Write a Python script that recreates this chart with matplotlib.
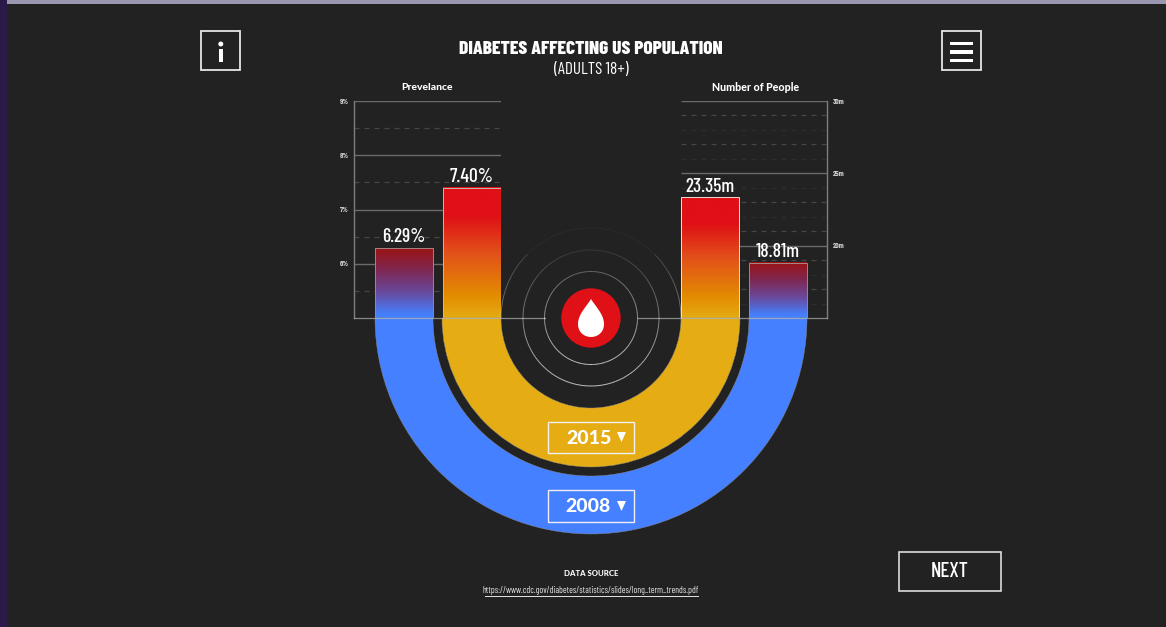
import matplotlib

matplotlib.use("Agg")
import matplotlib.pyplot as plt
import numpy as np
from matplotlib.collections import LineCollection
from matplotlib.colors import LinearSegmentedColormap
from matplotlib.patches import Circle, PathPatch, Polygon, Rectangle, Wedge
from matplotlib.path import Path

prevalence_values = [6.29, 7.40]
people_values = [18.81, 23.35]
prevalence_ticks = [6, 7, 8, 9]
prevalence_labels = ["6%", "7%", "8%", "9%"]
prevalence_minor = [5.5, 6.5, 7.5, 8.5]
people_ticks = [20, 25, 30]
people_labels = ["20m", "25m", "30m"]
people_minor_strong = [17, 19, 21, 23, 27, 29]
people_minor_faint = [16, 18, 22, 24, 26, 28]
years = ["2008", "2015"]

W, H = 1166, 627
BG = "#222222"
BLUE = "#4480FF"
YELLOW = "#E5AC14"
RED = "#DF1016"
GRID = "#6a6a6a"
NARROW = ["Barlow Condensed", "Roboto Condensed", "Liberation Sans Narrow", "DejaVu Sans"]
HEAVY = ["Lato", "DejaVu Sans"]

CX, BASE = 591, 318
TOP = 101

old_cmap = LinearSegmentedColormap.from_list(
    "old", [(0, "#9A1414"), (0.3, "#80264F"), (0.62, "#6A489A"), (0.95, BLUE), (1, BLUE)]
)
new_cmap = LinearSegmentedColormap.from_list(
    "new", [(0, RED), (0.22, RED), (0.5, "#E2501A"), (0.84, "#E38E00"), (1, YELLOW)]
)


def pixel_axes(fig, x0, x1):
    return fig.add_axes([x0 / W, 1 - BASE / H, (x1 - x0) / W, (BASE - TOP) / H])


def draw_bar(ax, left, width, value, low, cmap, edge):
    grad = np.linspace(0, 1, 256).reshape(-1, 1)
    ax.imshow(
        grad,
        cmap=cmap,
        extent=(left, left + width, low, value),
        origin="upper",
        aspect="auto",
        zorder=3,
    )
    ax.add_patch(
        Rectangle((left, low), width, value - low, fill=False, ec=edge, lw=0.7, zorder=4)
    )


def style_axes(ax, side):
    ax.patch.set_alpha(0)
    for s in ax.spines.values():
        s.set_visible(False)
    ax.spines[side].set_visible(True)
    ax.spines[side].set_color("#7e7e7e")
    ax.spines[side].set_linewidth(1)
    ax.tick_params(axis="y", which="both", length=0, labelsize=5.4, labelcolor="#d0d0d0", pad=4)
    ax.tick_params(axis="x", which="both", bottom=False, labelbottom=False)


def value_label(ax, text, x, v):
    ax.annotate(
        text,
        (x, v),
        xytext=(0, 7.6),
        textcoords="offset points",
        ha="center",
        va="center",
        color="white",
        fontsize=14,
        fontweight=500,
        family=NARROW,
        zorder=6,
    )


fig = plt.figure(figsize=(W / 100, H / 100), dpi=100, facecolor=BG)

# left axis, prevalence in %
ax_l = pixel_axes(fig, 354, 501)
ax_l.set_xlim(354, 501)
ax_l.set_ylim(5, 9)
style_axes(ax_l, "left")
ax_l.set_yticks(prevalence_ticks, prevalence_labels, family=NARROW, fontweight="bold")
ax_l.hlines(prevalence_ticks, 354, 501, color=GRID, lw=1, zorder=1)
ax_l.hlines(prevalence_minor, 354, 501, color="#474747", lw=0.9, ls=(0, (4, 4)), zorder=1)
for left, v, cmap, edge in zip([375, 443], prevalence_values, [old_cmap, new_cmap], ["#a88484", "#c8b8a8"]):
    draw_bar(ax_l, left, 58, v, 5, cmap, edge)
    value_label(ax_l, f"{v:.2f}%", left + 29, v)
ax_l.set_xlim(354, 501)
ax_l.set_ylim(5, 9)

# right axis, number of people in millions
ax_r = pixel_axes(fig, 681, 827)
ax_r.set_xlim(681, 827)
ax_r.set_ylim(15, 30)
style_axes(ax_r, "right")
ax_r.yaxis.tick_right()
ax_r.tick_params(axis="y", which="both", length=0, pad=4, right=False)
ax_r.set_yticks(people_ticks, people_labels, family=NARROW, fontweight="bold")
ax_r.hlines(people_ticks, 681, 827, color=GRID, lw=1, zorder=1)
ax_r.hlines(people_minor_strong, 681, 827, color="#474747", lw=0.9, ls=(0, (4, 4)), zorder=1)
ax_r.hlines(people_minor_faint, 681, 827, color="#2d2d2d", lw=0.9, ls=(0, (4, 4)), zorder=1)
for left, v, cmap, edge in zip([749, 681], people_values, [old_cmap, new_cmap], ["#a88484", "#e8e0d8"]):
    draw_bar(ax_r, left, 58, v, 15, cmap, edge)
    value_label(ax_r, f"{v:.2f}m", left + 29, v)
ax_r.set_xlim(681, 827)
ax_r.set_ylim(15, 30)

# overlay in pixel coordinates for the decoration
ov = fig.add_axes([0, 0, 1, 1])
ov.set_xlim(0, W)
ov.set_ylim(H, 0)
ov.axis("off")
ov.patch.set_alpha(0)

ov.add_patch(Rectangle((0, 0), 7, H, fc="#2A1A48", ec="none"))
ov.add_patch(Rectangle((7, 0), W - 7, 4, fc="#9A98B0", ec="none"))

ov.add_patch(Wedge((CX, BASE), 216, 0, 180, width=58, fc=BLUE, ec="#8a8a8a", lw=0.3))
ov.add_patch(Wedge((CX, BASE), 149, 0, 180, width=59, fc=YELLOW, ec="#8a8a8a", lw=0.3))

# baseline stops at the inner ring
ov.plot([354, 545], [BASE, BASE], color="#b4b4b4", lw=0.9, alpha=0.7)
ov.plot([638, 827], [BASE, BASE], color="#b4b4b4", lw=0.9, alpha=0.7)

# rings fade out towards the top
for r, top_alpha in [(46.5, 0.3), (68, 0.1), (90, 0.05)]:
    t = np.linspace(0, 2 * np.pi, 241)
    px = CX + r * np.cos(t)
    py = BASE + r * np.sin(t)
    pts = np.column_stack([px, py]).reshape(-1, 1, 2)
    segs = np.concatenate([pts[:-1], pts[1:]], axis=1)
    mid = np.sin((t[:-1] + t[1:]) / 2)
    alphas = np.clip(top_alpha + (0.75 - top_alpha) * (mid + 1) / 2, 0, 1)
    if r == 90:
        alphas[mid > 0] = 0
        alphas[mid < -0.7] = 0.04
    cols = [(1, 1, 1, a) for a in alphas]
    ov.add_collection(LineCollection(segs, colors=cols, linewidths=0.7))

ov.add_patch(Circle((CX, BASE), 29.7, fc=RED, ec="none"))
drop = Path(
    [(CX, 299), (CX + 4, 306), (CX + 13, 314), (CX + 13, 324), (CX + 13, 332), (CX + 7, 337),
     (CX, 337), (CX - 7, 337), (CX - 13, 332), (CX - 13, 324), (CX - 13, 314), (CX - 4, 306),
     (CX, 299)],
    [Path.MOVETO] + [Path.CURVE4] * 12,
)
ov.add_patch(PathPatch(drop, fc="white", ec="none"))

# year selectors
for year, (y0, y1), tx, tri in zip(years, [(490, 522), (422, 453)], [588, 589.5], [506, 437]):
    ov.add_patch(Rectangle((548, y0), 86, y1 - y0, fill=False, ec="#f0f0f0", lw=1))
    ov.text(tx, (y0 + y1) / 2 + 1, year, color="white", fontsize=14, fontweight=900,
            family=HEAVY, ha="center", va="center")
    ov.add_patch(Polygon([(617, tri - 5), (626, tri - 5), (621.5, tri + 5)], fc="white", ec="none"))

# title and panel headings
ov.text(591, 48.5, "DIABETES AFFECTING US POPULATION", color="white", fontsize=14, fontweight=800,
        family=NARROW, ha="center", va="center")
ov.text(591, 69.5, "(ADULTS 18+)", color="white", fontsize=12.3, family=NARROW, ha="center", va="center")
ov.text(426.5, 87.5, "Prevelance", color="white", fontsize=7.5, fontweight=900, family=HEAVY,
        ha="center", va="center")
ov.text(756, 87.5, "Number of People", color="white", fontsize=7.7, fontweight=900, family=HEAVY,
        ha="center", va="center")

# info and menu buttons
ov.add_patch(Rectangle((201, 31), 39, 39, fill=False, ec="#e6e6e6", lw=1.3))
ov.add_patch(Circle((220.8, 44), 2.5, fc="white", ec="none"))
ov.add_patch(Rectangle((218.5, 49), 4.6, 13, fc="white", ec="none"))
ov.add_patch(Rectangle((942, 31), 39, 39, fill=False, ec="#e6e6e6", lw=1.3))
for y in [41.5, 50, 58.5]:
    ov.add_patch(Rectangle((950, y), 23, 3.6, fc="white", ec="none"))

# next button
ov.add_patch(Rectangle((899, 552), 102, 39, fill=False, ec="#dcdcdc", lw=1.2))
ov.text(950, 571.5, "NEXT", color="white", fontsize=15, fontweight=500, family=NARROW, ha="center", va="center")

# data source
ov.text(591, 573, "DATA SOURCE", color="white", fontsize=5.6, fontweight=900, family=HEAVY,
        ha="center", va="center")
ov.text(591, 590.5, "https://www.cdc.gov/diabetes/statistics/slides/long_term_trends.pdf", color="#e6e6e6",
        fontsize=6.5, family=NARROW, ha="center", va="center")
ov.plot([485, 698], [595.5, 595.5], color="#e6e6e6", lw=0.7)

ov.set_xlim(0, W)
ov.set_ylim(H, 0)
fig.savefig("out.png", dpi=100, facecolor=BG)
